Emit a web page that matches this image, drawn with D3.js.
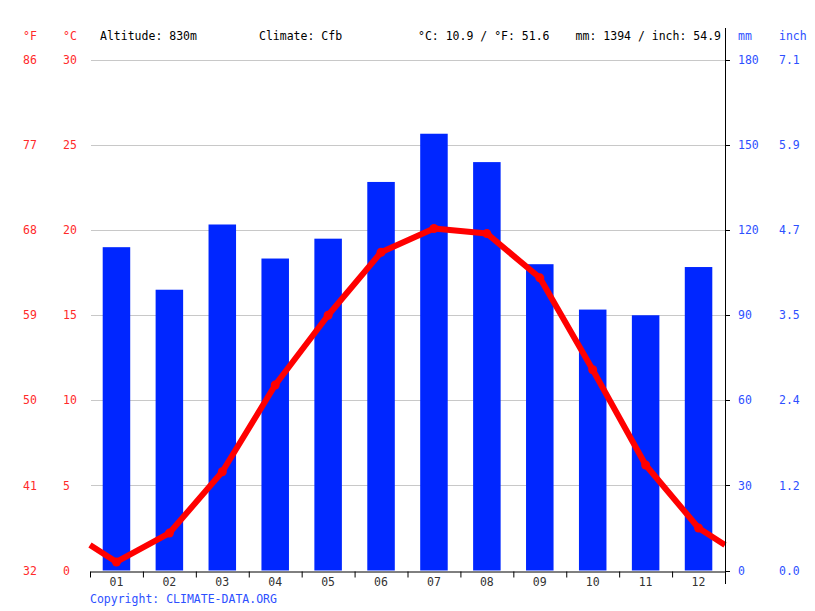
<!DOCTYPE html>
<html>
<head>
<meta charset="utf-8">
<script src="https://cdn.jsdelivr.net/npm/d3@7.9.0/dist/d3.min.js"></script>
<style>
  body { margin: 0; background: #fff; }
  svg text { font-family: "DejaVu Sans Mono", monospace; }
</style>
</head>
<body>
<div id="chart"></div>
<script>
// Monthly climate values
const months = ['01', '02', '03', '04', '05', '06', '07', '08', '09', '10', '11', '12'];
const precipMm = [114, 99, 122, 110, 117, 137, 154, 144, 108, 92, 90, 107];
const tempC = [0.5, 2.2, 5.8, 10.9, 15.0, 18.7, 20.1, 19.8, 17.2, 11.8, 6.2, 2.5];

const celsiusTicks = [0, 5, 10, 15, 20, 25, 30];
const fahrenheitLabels = ['32', '41', '50', '59', '68', '77', '86'];
const mmTicks = [0, 30, 60, 90, 120, 150, 180];
const inchLabels = ['0.0', '1.2', '2.4', '3.5', '4.7', '5.9', '7.1'];

const header = {
  altitude: 'Altitude: 830m',
  climate: 'Climate: Cfb',
  temp: '°C: 10.9 / °F: 51.6',
  precip: 'mm: 1394 / inch: 54.9'
};

const width = 815, height = 611;
const plotLeft = 90, plotRight = 725, plotTop = 60, plotBottom = 570.5;

const red = '#ff0000', redText = '#ff2a2a', blue = '#0026ff', blueText = '#2d50ff';

const svg = d3.select('#chart').append('svg')
  .attr('width', width)
  .attr('height', height);

const x = d3.scaleBand().domain(months).range([plotLeft, plotRight]).paddingInner(0.48).paddingOuter(0.24);
const xPos = d3.scaleLinear().domain([0, 12]).range([plotLeft, plotRight]);
const yT = d3.scaleLinear().domain([0, 30]).range([plotBottom, plotTop]);
const yP = d3.scaleLinear().domain([0, 180]).range([plotBottom, plotTop]);

// Gridlines
svg.append('g')
  .selectAll('line')
  .data(celsiusTicks.slice(1))
  .join('line')
  .attr('x1', plotLeft + 1).attr('x2', plotRight)
  .attr('y1', d => Math.round(yT(d)) + 0.5)
  .attr('y2', d => Math.round(yT(d)) + 0.5)
  .attr('stroke', '#c8c8c8')
  .attr('stroke-width', 1);

// Precipitation bars
svg.append('g')
  .selectAll('rect')
  .data(precipMm)
  .join('rect')
  .attr('x', (d, i) => x(months[i]))
  .attr('width', x.bandwidth())
  .attr('y', d => yP(d))
  .attr('height', d => yP(0) - yP(d))
  .attr('fill', blue);

// Temperature line, extended to the edges with the Dec/Jan midpoint
const edgeT = (tempC[0] + tempC[11]) / 2;
const linePts = [[xPos(0), yT(edgeT)]]
  .concat(tempC.map((t, i) => [xPos(i + 0.5), yT(t)]))
  .concat([[xPos(12), yT(edgeT)]]);

svg.append('path')
  .attr('d', d3.line()(linePts))
  .attr('fill', 'none')
  .attr('stroke', red)
  .attr('stroke-width', 6)
  .attr('stroke-linejoin', 'round');

svg.append('g')
  .selectAll('circle')
  .data(tempC)
  .join('circle')
  .attr('cx', (d, i) => xPos(i + 0.5))
  .attr('cy', d => yT(d))
  .attr('r', 4.5)
  .attr('fill', red);

// X axis
const xAxis = svg.append('g')
  .attr('transform', `translate(0,${Math.round(plotBottom) + 0.5})`)
  .call(d3.axisBottom(xPos).tickValues(d3.range(0, 13)).tickSize(6).tickSizeOuter(0).tickFormat(''));
xAxis.select('.domain').attr('stroke', '#000');
xAxis.selectAll('.tick line').attr('stroke', '#000');

svg.append('g')
  .selectAll('text')
  .data(months)
  .join('text')
  .attr('x', d => x(d) + x.bandwidth() / 2)
  .attr('y', 586)
  .attr('text-anchor', 'middle')
  .attr('font-family', '"DejaVu Sans", sans-serif')
  .attr('font-size', 11.5)
  .attr('fill', '#333')
  .text(d => d);

// Right axis
svg.append('line')
  .attr('x1', plotRight + 0.5).attr('x2', plotRight + 0.5)
  .attr('y1', 28).attr('y2', 584)
  .attr('stroke', '#000');
svg.append('g')
  .selectAll('line')
  .data(mmTicks)
  .join('line')
  .attr('x1', plotRight).attr('x2', plotRight + 5)
  .attr('y1', d => Math.round(yP(d)) + 0.5)
  .attr('y2', d => Math.round(yP(d)) + 0.5)
  .attr('stroke', '#000');

// Tick labels
const tickFont = 11.5;
function labelColumn(values, labels, scale, xAt, color) {
  svg.append('g')
    .selectAll('text')
    .data(values)
    .join('text')
    .attr('x', xAt)
    .attr('y', d => scale(d))
    .attr('dy', '0.36em')
    .attr('font-size', tickFont)
    .attr('fill', color)
    .text((d, i) => labels[i]);
}
labelColumn(celsiusTicks, fahrenheitLabels, yT, 23, redText);
labelColumn(celsiusTicks, celsiusTicks.map(String), yT, 63, redText);
labelColumn(mmTicks, mmTicks.map(String), yP, 738, blueText);
labelColumn(mmTicks, inchLabels, yP, 779, blueText);

// Unit headers
const headY = 40;
svg.append('text').attr('x', 23).attr('y', headY).attr('font-size', tickFont).attr('fill', redText).text('°F');
svg.append('text').attr('x', 63).attr('y', headY).attr('font-size', tickFont).attr('fill', redText).text('°C');
svg.append('text').attr('x', 738).attr('y', headY).attr('font-size', tickFont).attr('fill', blueText).text('mm');
svg.append('text').attr('x', 779).attr('y', headY).attr('font-size', tickFont).attr('fill', blueText).text('inch');

// Summary line
svg.append('text').attr('x', 100).attr('y', headY).attr('font-size', tickFont).attr('fill', '#000').text(header.altitude);
svg.append('text').attr('x', 259).attr('y', headY).attr('font-size', tickFont).attr('fill', '#000').text(header.climate);
svg.append('text').attr('x', 418).attr('y', headY).attr('font-size', tickFont).attr('fill', '#000').text(header.temp);
svg.append('text').attr('x', 721).attr('y', headY).attr('text-anchor', 'end').attr('font-size', tickFont).attr('fill', '#000').text(header.precip);

// Copyright
svg.append('text')
  .attr('x', 90).attr('y', 603)
  .attr('font-size', tickFont)
  .attr('fill', blueText)
  .text('Copyright: CLIMATE-DATA.ORG');
</script>
</body>
</html>
